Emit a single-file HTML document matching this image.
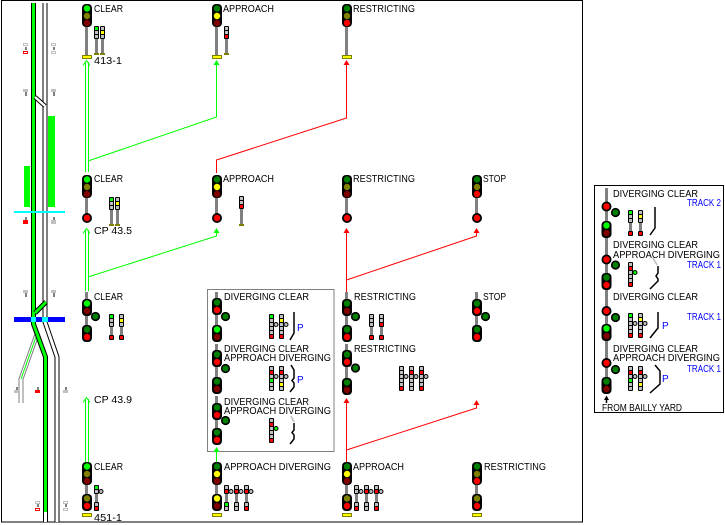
<!DOCTYPE html>
<html><head><meta charset="utf-8"><title>Signal aspects</title>
<style>
html,body{margin:0;padding:0;background:#fff;width:725px;height:525px;overflow:hidden}
svg{display:block}
text{font-family:"Liberation Sans",sans-serif;font-size:10px;fill:#000}
text.b{fill:#0000ff}
.G{fill:#00ff00}.DG{fill:#008000}.O{fill:#808000}.R{fill:#ff0000}.DR{fill:#800000}.Y{fill:#ffff00}.L{fill:#c0c0c0}.P{fill:#808080}.C{fill:#00ffff}
.s{stroke:#000;stroke-width:1}
</style></head><body>
<svg width="725" height="525" viewBox="0 0 725 525" xmlns="http://www.w3.org/2000/svg">
<rect x="0" y="0" width="725" height="525" fill="#fff"/>
<!-- frames -->
<rect x="1.5" y="0.5" width="581" height="521.5" fill="none" stroke="#000"/>
<rect x="594.5" y="185.5" width="129" height="227" fill="none" stroke="#000"/>
<rect x="207.5" y="289.5" width="126.5" height="162" fill="none" stroke="#808080"/>

<!-- ===== TRACKS ===== -->
<path d="M37,334 L21,379 V403" stroke="#808080" stroke-width="5" fill="none"/>
<path d="M37,334 L21,379 V403" stroke="#fff" stroke-width="3" fill="none"/>
<path d="M37,334 L21,379" stroke="#00ff00" stroke-width="1" fill="none"/>
<path d="M45,3 V322 L57,357 V522" stroke="#000" stroke-width="5" fill="none"/>
<path d="M45,3 V322 L57,357 V522" stroke="#fff" stroke-width="3" fill="none"/>
<path d="M33.5,3 V324 L45.5,357 V522" stroke="#000" stroke-width="5" fill="none"/>
<path d="M45.5,512 V522" stroke="#fff" stroke-width="3" fill="none"/>
<path d="M33.5,3 V324 L45.5,357 V512" stroke="#00ff00" stroke-width="3" fill="none"/>
<rect x="42" y="112" width="2" height="100" class="P"/>
<rect x="48" y="116" width="7" height="91" class="G"/>
<rect x="24" y="166" width="6" height="41" class="G"/>
<path d="M35,97 L45,106" stroke="#000" stroke-width="4.5" fill="none"/>
<path d="M35,97 L45,106" stroke="#fff" stroke-width="2.5" fill="none"/>
<path d="M46,302 L35,313" stroke="#000" stroke-width="5" fill="none"/>
<path d="M46,302 L35,313" stroke="#00ff00" stroke-width="3" fill="none"/>
<rect x="14" y="211" width="51" height="2" class="C"/>
<rect x="14" y="317" width="51" height="5" fill="#0000ff"/>
<rect x="31" y="317" width="5" height="5" class="C"/>
<rect x="42" y="317" width="6" height="5" class="C"/>

<!-- markers -->
<g>
<rect x="23.5" y="43.5" width="4" height="2" fill="none" stroke="#c0c0c0"/><rect x="25" y="47" width="2" height="3" class="P"/><rect x="23.5" y="51.5" width="4" height="2" fill="none" stroke="#f00"/>
<rect x="51.5" y="43.5" width="4" height="2" fill="none" stroke="#c0c0c0"/><rect x="53" y="47" width="2" height="3" class="P"/><rect x="51.5" y="51.5" width="4" height="2" fill="none" stroke="#c0c0c0"/>
<rect x="23" y="89" width="5" height="3" class="L"/><rect x="25" y="92" width="2" height="4" class="P"/>
<rect x="51" y="89" width="5" height="3" class="L"/><rect x="53" y="92" width="2" height="4" class="P"/>
<rect x="25" y="217" width="2" height="3" class="P"/><rect x="23" y="220" width="5" height="4" class="R"/>
<rect x="53" y="217" width="2" height="3" class="P"/><rect x="51" y="220" width="5" height="4" class="L"/>
<rect x="23" y="290" width="5" height="3" class="L"/><rect x="25" y="293" width="2" height="4" class="P"/>
<rect x="51" y="290" width="5" height="3" class="L"/><rect x="53" y="293" width="2" height="4" class="P"/>
<rect x="16" y="387" width="2" height="3" class="P"/><rect x="14" y="390" width="5" height="3" class="L"/>
<rect x="37" y="387" width="2" height="3" class="P"/><rect x="35" y="390" width="5" height="3" class="R"/>
<rect x="65" y="387" width="2" height="3" class="P"/><rect x="63" y="390" width="5" height="3" class="L"/>
<rect x="35.5" y="501.5" width="4" height="2" fill="none" stroke="#c0c0c0"/><rect x="37" y="504" width="2" height="3" class="P"/><rect x="35.5" y="508.5" width="4" height="2" fill="none" stroke="#f00"/>
<rect x="63.5" y="501.5" width="4" height="2" fill="none" stroke="#c0c0c0"/><rect x="65" y="504" width="2" height="3" class="P"/><rect x="63.5" y="508.5" width="4" height="2" fill="none" stroke="#c0c0c0"/>
</g>

<!-- ===== CONNECTORS ===== -->
<g fill="none" stroke="#00ff00" stroke-width="1">
<path d="M85.5,62 V172 M88.5,62 V172"/><path d="M83,65.5 L86.5,60.5 L90,65.5"/>
<path d="M85.5,230 V291 M88.5,230 V291"/><path d="M83,233.5 L86.5,228.5 L90,233.5"/>
<path d="M85.5,399 V462 M88.5,399 V462"/><path d="M83,402.5 L86.5,397.5 L90,402.5"/>
<path d="M88,161 L216.5,117 V63"/>
<path d="M88,277 L216.5,236 V231"/>
<path d="M216.5,450 V462"/>
</g>
<g fill="#00ff00">
<path d="M216.5,60 L213.5,65 L219.5,65 Z"/>
<path d="M216.5,228 L213.5,233 L219.5,233 Z"/>
<path d="M216.5,447 L213.5,452 L219.5,452 Z"/>
</g>
<g fill="none" stroke="#ff0000" stroke-width="1">
<path d="M216.5,173 V160 L346.5,118 V63"/>
<path d="M346.5,231 V292"/>
<path d="M346.5,280 L476.5,236 V231"/>
<path d="M346.5,401 V462"/>
<path d="M346.5,450 L476.5,408 V403"/>
</g>
<g fill="#ff0000">
<path d="M346.5,60 L343.5,65 L349.5,65 Z"/>
<path d="M346.5,228 L343.5,233 L349.5,233 Z"/>
<path d="M476.5,228 L473.5,233 L479.5,233 Z"/>
<path d="M346.5,398 L343.5,403 L349.5,403 Z"/>
<path d="M476.5,400 L473.5,405 L479.5,405 Z"/>
</g>

<!-- ===== POSTS ===== -->
<g class="P">
<rect x="85" y="27" width="3" height="28"/><rect x="215" y="27" width="3" height="28"/><rect x="345" y="27" width="3" height="28"/>
<rect x="85" y="197" width="3" height="17"/><rect x="215" y="197" width="3" height="17"/><rect x="345" y="197" width="3" height="17"/><rect x="475" y="197" width="3" height="17"/>
<rect x="85" y="292" width="3" height="49"/><rect x="215" y="292" width="3" height="49"/><rect x="345" y="292" width="3" height="49"/><rect x="475" y="292" width="3" height="49"/>
<rect x="215" y="344" width="3" height="49"/><rect x="345" y="344" width="3" height="51"/>
<rect x="215" y="396" width="3" height="48"/>
<rect x="85" y="485" width="3" height="10"/><rect x="215" y="485" width="3" height="10"/><rect x="345" y="485" width="3" height="10"/><rect x="475" y="485" width="3" height="10"/>
<rect x="605" y="188" width="3" height="205"/>
</g>

<!-- base plates -->
<g class="Y" stroke="#808000">
<rect x="82.5" y="55.5" width="9" height="3"/><rect x="212.5" y="55.5" width="9" height="3"/><rect x="342.5" y="55.5" width="9" height="3"/>
<rect x="82.5" y="513.5" width="9" height="3"/><rect x="212.5" y="513.5" width="9" height="3"/><rect x="342.5" y="513.5" width="9" height="3"/><rect x="472.5" y="513.5" width="9" height="3"/>
</g>

<!-- ===== SIGNAL HEADS ===== -->
<g fill="#000">
<rect x="82" y="4" width="10" height="23" rx="4"/>
<rect x="212" y="4" width="10" height="23" rx="4"/>
<rect x="342" y="4" width="10" height="23" rx="4"/>
<rect x="82" y="175" width="10" height="23" rx="4"/>
<rect x="212" y="175" width="10" height="23" rx="4"/>
<rect x="342" y="175" width="10" height="23" rx="4"/>
<rect x="472" y="175" width="10" height="23" rx="4"/>
<circle cx="87" cy="218" r="5"/><circle cx="217" cy="218" r="5"/><circle cx="347" cy="218" r="5"/><circle cx="477" cy="218" r="5"/>
<rect x="82" y="299" width="10" height="17" rx="4"/><rect x="82" y="325" width="10" height="17" rx="4"/>
<rect x="212" y="298" width="10" height="17" rx="4"/><rect x="212" y="325" width="10" height="17" rx="4"/>
<rect x="342" y="299" width="10" height="17" rx="4"/><rect x="342" y="325" width="10" height="17" rx="4"/>
<rect x="472" y="299" width="10" height="17" rx="4"/><rect x="472" y="325" width="10" height="17" rx="4"/>
<rect x="212" y="350" width="10" height="17" rx="4"/><rect x="212" y="377" width="10" height="17" rx="4"/>
<rect x="342" y="350" width="10" height="17" rx="4"/><rect x="342" y="378" width="10" height="17" rx="4"/>
<rect x="212" y="403" width="10" height="17" rx="4"/><rect x="212" y="428" width="10" height="17" rx="4"/>
<circle cx="95.5" cy="316.5" r="4.6"/><circle cx="225.5" cy="316.5" r="4.6"/><circle cx="355.5" cy="316.5" r="4.6"/><circle cx="485.5" cy="316.5" r="4.6"/>
<circle cx="225.5" cy="368.5" r="4.6"/><circle cx="355.5" cy="368" r="4.6"/><circle cx="225.5" cy="420.5" r="4.6"/>
<rect x="82" y="462" width="10" height="23" rx="4"/><rect x="82" y="494" width="10" height="17" rx="4"/>
<rect x="212" y="462" width="10" height="23" rx="4"/><rect x="212" y="494" width="10" height="17" rx="4"/>
<rect x="342" y="462" width="10" height="23" rx="4"/><rect x="342" y="494" width="10" height="17" rx="4"/>
<rect x="472" y="462" width="10" height="23" rx="4"/><rect x="472" y="494" width="10" height="17" rx="4"/>
<circle cx="606.5" cy="206.5" r="5"/><circle cx="615.5" cy="212.5" r="4.6"/><rect x="601.5" y="221" width="10" height="17" rx="4"/>
<circle cx="606.5" cy="259.5" r="5"/><circle cx="615.5" cy="265" r="4.6"/><rect x="601.5" y="273" width="10" height="17" rx="4"/>
<circle cx="606.5" cy="311" r="5"/><circle cx="615.5" cy="317.5" r="4.6"/><rect x="601.5" y="324" width="10" height="17" rx="4"/>
<circle cx="606.5" cy="363" r="5"/><circle cx="615.5" cy="369.5" r="4.6"/><rect x="601.5" y="377" width="10" height="17" rx="4"/>
</g>
<!-- lamps -->
<g>
<circle cx="87" cy="8.5" r="3.2" class="G"/><circle cx="87" cy="16" r="3.2" class="O"/><circle cx="87" cy="23" r="3.2" class="DR"/>
<circle cx="217" cy="8.5" r="3.2" class="DG"/><circle cx="217" cy="16" r="3.2" class="Y"/><circle cx="217" cy="23" r="3.2" class="DR"/>
<circle cx="347" cy="8.5" r="3.2" class="DG"/><circle cx="347" cy="16" r="3.2" class="O"/><circle cx="347" cy="23" r="3.2" class="R"/>

<circle cx="87" cy="179.5" r="3.2" class="G"/><circle cx="87" cy="187" r="3.2" class="O"/><circle cx="87" cy="194" r="3.2" class="DR"/>
<circle cx="217" cy="179.5" r="3.2" class="DG"/><circle cx="217" cy="187" r="3.2" class="Y"/><circle cx="217" cy="194" r="3.2" class="DR"/>
<circle cx="347" cy="179.5" r="3.2" class="DG"/><circle cx="347" cy="187" r="3.2" class="O"/><circle cx="347" cy="194" r="3.2" class="DR"/>
<circle cx="477" cy="179.5" r="3.2" class="DG"/><circle cx="477" cy="187" r="3.2" class="O"/><circle cx="477" cy="194" r="3.2" class="R"/>
<circle cx="87" cy="218" r="3.2" class="R"/><circle cx="217" cy="218" r="3.2" class="R"/><circle cx="347" cy="218" r="3.2" class="R"/><circle cx="477" cy="218" r="3.2" class="R"/>

<circle cx="87" cy="303.5" r="3.2" class="G"/><circle cx="87" cy="311" r="3.2" class="DR"/>
<circle cx="87" cy="329.5" r="3.2" class="DG"/><circle cx="87" cy="337" r="3.2" class="R"/>
<circle cx="217" cy="302.5" r="3.2" class="DG"/><circle cx="217" cy="310" r="3.2" class="R"/>
<circle cx="217" cy="329.5" r="3.2" class="G"/><circle cx="217" cy="337" r="3.2" class="DR"/>
<circle cx="347" cy="303.5" r="3.2" class="DG"/><circle cx="347" cy="311" r="3.2" class="DR"/>
<circle cx="347" cy="329.5" r="3.2" class="DG"/><circle cx="347" cy="337" r="3.2" class="R"/>
<circle cx="477" cy="303.5" r="3.2" class="DG"/><circle cx="477" cy="311" r="3.2" class="R"/>
<circle cx="477" cy="329.5" r="3.2" class="DG"/><circle cx="477" cy="337" r="3.2" class="R"/>
<circle cx="217" cy="354.5" r="3.2" class="DG"/><circle cx="217" cy="362" r="3.2" class="R"/>
<circle cx="217" cy="381.5" r="3.2" class="DG"/><circle cx="217" cy="389" r="3.2" class="DR"/>
<circle cx="347" cy="354.5" r="3.2" class="DG"/><circle cx="347" cy="362" r="3.2" class="R"/>
<circle cx="347" cy="382.5" r="3.2" class="DG"/><circle cx="347" cy="390" r="3.2" class="DR"/>
<circle cx="217" cy="407.5" r="3.2" class="DG"/><circle cx="217" cy="415" r="3.2" class="R"/>
<circle cx="217" cy="432.5" r="3.2" class="DG"/><circle cx="217" cy="440" r="3.2" class="R"/>
<circle cx="95.5" cy="316.5" r="3" class="DG"/><circle cx="225.5" cy="316.5" r="3" class="DG"/><circle cx="355.5" cy="316.5" r="3" class="DG"/><circle cx="485.5" cy="316.5" r="3" class="DG"/>
<circle cx="225.5" cy="368.5" r="3" class="DG"/><circle cx="355.5" cy="368" r="3" class="DG"/><circle cx="225.5" cy="420.5" r="3" class="DG"/>

<circle cx="87" cy="466.5" r="3.2" class="G"/><circle cx="87" cy="474" r="3.2" class="O"/><circle cx="87" cy="481" r="3.2" class="DR"/>
<circle cx="87" cy="498.5" r="3.2" class="O"/><circle cx="87" cy="506" r="3.2" class="R"/>
<circle cx="217" cy="466.5" r="3.2" class="DG"/><circle cx="217" cy="474" r="3.2" class="Y"/><circle cx="217" cy="481" r="3.2" class="DR"/>
<circle cx="217" cy="498.5" r="3.2" class="Y"/><circle cx="217" cy="506" r="3.2" class="DR"/>
<circle cx="347" cy="466.5" r="3.2" class="DG"/><circle cx="347" cy="474" r="3.2" class="Y"/><circle cx="347" cy="481" r="3.2" class="DR"/>
<circle cx="347" cy="498.5" r="3.2" class="O"/><circle cx="347" cy="506" r="3.2" class="R"/>
<circle cx="477" cy="466.5" r="3.2" class="DG"/><circle cx="477" cy="474" r="3.2" class="O"/><circle cx="477" cy="481" r="3.2" class="R"/>
<circle cx="477" cy="498.5" r="3.2" class="O"/><circle cx="477" cy="506" r="3.2" class="R"/>

<circle cx="606.5" cy="206.5" r="3.2" class="R"/><circle cx="615.5" cy="212.5" r="3" class="DG"/>
<circle cx="606.5" cy="225.5" r="3.2" class="G"/><circle cx="606.5" cy="233" r="3.2" class="DR"/>
<circle cx="606.5" cy="259.5" r="3.2" class="R"/><circle cx="615.5" cy="265" r="3" class="DG"/>
<circle cx="606.5" cy="277.5" r="3.2" class="DG"/><circle cx="606.5" cy="285" r="3.2" class="R"/>
<circle cx="606.5" cy="311" r="3.2" class="R"/><circle cx="615.5" cy="317.5" r="3" class="DG"/>
<circle cx="606.5" cy="328.5" r="3.2" class="G"/><circle cx="606.5" cy="336" r="3.2" class="DR"/>
<circle cx="606.5" cy="363" r="3.2" class="R"/><circle cx="615.5" cy="369.5" r="3" class="DG"/>
<circle cx="606.5" cy="381.5" r="3.2" class="DG"/><circle cx="606.5" cy="389" r="3.2" class="DR"/>
</g>

<!-- ===== DWARF SIGNALS ===== -->
<g class="P">
<rect x="95" y="39" width="3" height="14"/><rect x="101" y="39" width="3" height="14"/><rect x="225" y="39" width="3" height="14"/>
<rect x="110" y="210" width="3" height="14"/><rect x="116" y="210" width="3" height="14"/><rect x="240" y="209" width="3" height="15"/>
<rect x="110" y="327" width="3" height="9"/><rect x="120" y="327" width="3" height="9"/><rect x="370" y="327" width="3" height="9"/><rect x="380" y="327" width="3" height="9"/>
<rect x="95" y="494" width="3" height="8"/><rect x="225" y="494" width="3" height="8"/><rect x="235" y="494" width="3" height="8"/><rect x="245" y="494" width="3" height="8"/>
<rect x="355" y="494" width="3" height="8"/><rect x="365" y="494" width="3" height="8"/><rect x="375" y="494" width="3" height="8"/>
<rect x="629" y="223" width="3" height="8"/><rect x="639" y="223" width="3" height="8"/>
</g>
<g class="O">
<rect x="94" y="53" width="5" height="2"/><rect x="100" y="53" width="5" height="2"/><rect x="224" y="53" width="5" height="2"/>
<rect x="109" y="224" width="5" height="2"/><rect x="115" y="224" width="5" height="2"/><rect x="239" y="224" width="5" height="2"/>
</g>
<g fill="#000">
<rect x="94" y="26" width="5" height="13" rx="1"/><rect x="100" y="26" width="5" height="13" rx="1"/><rect x="224" y="26" width="5" height="13" rx="1"/>
<rect x="109" y="197" width="5" height="13" rx="1"/><rect x="115" y="197" width="5" height="13" rx="1"/><rect x="239" y="196" width="5" height="13" rx="1"/>
<rect x="109" y="314" width="5" height="13" rx="1"/><rect x="109" y="335" width="5" height="5" rx="1"/>
<rect x="119" y="314" width="5" height="13" rx="1"/><rect x="119" y="335" width="5" height="5" rx="1"/>
<rect x="369" y="314" width="5" height="13" rx="1"/><rect x="369" y="335" width="5" height="5" rx="1"/>
<rect x="379" y="314" width="5" height="13" rx="1"/><rect x="379" y="335" width="5" height="5" rx="1"/>
<rect x="269" y="314" width="5" height="25" rx="1"/><rect x="279" y="314" width="5" height="25" rx="1"/>
<rect x="269" y="366" width="5" height="25" rx="1"/><rect x="279" y="366" width="5" height="25" rx="1"/>
<rect x="269" y="418" width="5" height="25" rx="1"/>
<rect x="399" y="366" width="5" height="25" rx="1"/><rect x="409" y="366" width="5" height="25" rx="1"/><rect x="419" y="366" width="5" height="25" rx="1"/>
<rect x="94" y="485" width="5" height="9" rx="1"/><rect x="94" y="502" width="5" height="9" rx="1"/>
<rect x="224" y="485" width="5" height="9" rx="1"/><rect x="224" y="502" width="5" height="9" rx="1"/>
<rect x="234" y="485" width="5" height="9" rx="1"/><rect x="234" y="502" width="5" height="9" rx="1"/>
<rect x="244" y="485" width="5" height="9" rx="1"/><rect x="244" y="502" width="5" height="9" rx="1"/>
<rect x="354" y="485" width="5" height="9" rx="1"/><rect x="354" y="502" width="5" height="9" rx="1"/>
<rect x="364" y="485" width="5" height="9" rx="1"/><rect x="364" y="502" width="5" height="9" rx="1"/>
<rect x="374" y="485" width="5" height="9" rx="1"/><rect x="374" y="502" width="5" height="9" rx="1"/>
<rect x="628" y="210" width="5" height="13" rx="1"/><rect x="628" y="231" width="5" height="5" rx="1"/>
<rect x="638" y="210" width="5" height="13" rx="1"/><rect x="638" y="231" width="5" height="5" rx="1"/>
<rect x="628" y="262" width="5" height="25" rx="1"/>
<rect x="628" y="313" width="5" height="25" rx="1"/><rect x="638" y="313" width="5" height="25" rx="1"/>
<rect x="628" y="366" width="5" height="25" rx="1"/><rect x="638" y="366" width="5" height="25" rx="1"/>
</g>
<g>
<rect x="95" y="27" width="3" height="3" class="G"/><rect x="95" y="31" width="3" height="3" class="L"/><rect x="95" y="35" width="3" height="3" class="L"/>
<rect x="101" y="27" width="3" height="3" class="L"/><rect x="101" y="31" width="3" height="3" class="Y"/><rect x="101" y="35" width="3" height="3" class="L"/>
<rect x="225" y="27" width="3" height="3" class="L"/><rect x="225" y="31" width="3" height="3" class="L"/><rect x="225" y="35" width="3" height="3" class="R"/>

<rect x="110" y="198" width="3" height="3" class="G"/><rect x="110" y="202" width="3" height="3" class="L"/><rect x="110" y="206" width="3" height="3" class="L"/>
<rect x="116" y="198" width="3" height="3" class="L"/><rect x="116" y="202" width="3" height="3" class="Y"/><rect x="116" y="206" width="3" height="3" class="L"/>
<rect x="240" y="197" width="3" height="3" class="L"/><rect x="240" y="201" width="3" height="3" class="L"/><rect x="240" y="205" width="3" height="3" class="R"/>

<rect x="110" y="315" width="3" height="3" class="G"/><rect x="110" y="319" width="3" height="3" class="L"/><rect x="110" y="323" width="3" height="3" class="L"/><rect x="110" y="336" width="3" height="3" class="R"/>
<rect x="120" y="315" width="3" height="3" class="L"/><rect x="120" y="319" width="3" height="3" class="Y"/><rect x="120" y="323" width="3" height="3" class="L"/><rect x="120" y="336" width="3" height="3" class="R"/>
<rect x="370" y="315" width="3" height="3" class="L"/><rect x="370" y="319" width="3" height="3" class="L"/><rect x="370" y="323" width="3" height="3" class="L"/><rect x="370" y="336" width="3" height="3" class="R"/>
<rect x="380" y="315" width="3" height="3" class="L"/><rect x="380" y="319" width="3" height="3" class="L"/><rect x="380" y="323" width="3" height="3" class="R"/><rect x="380" y="336" width="3" height="3" class="R"/>

<rect x="270" y="315" width="3" height="3" class="G"/><rect x="270" y="319" width="3" height="3" class="L"/><rect x="270" y="323" width="3" height="3" class="L"/><rect x="270" y="327" width="3" height="3" class="L"/><rect x="270" y="331" width="3" height="3" class="L"/><rect x="270" y="335" width="3" height="3" class="R"/>
<rect x="280" y="315" width="3" height="3" class="L"/><rect x="280" y="319" width="3" height="3" class="Y"/><rect x="280" y="323" width="3" height="3" class="L"/><rect x="280" y="327" width="3" height="3" class="L"/><rect x="280" y="331" width="3" height="3" class="L"/><rect x="280" y="335" width="3" height="3" class="R"/>
<rect x="270" y="367" width="3" height="3" class="L"/><rect x="270" y="371" width="3" height="3" class="R"/><rect x="270" y="375" width="3" height="3" class="L"/><rect x="270" y="379" width="3" height="3" class="G"/><rect x="270" y="383" width="3" height="3" class="L"/><rect x="270" y="387" width="3" height="3" class="L"/>
<rect x="280" y="367" width="3" height="3" class="L"/><rect x="280" y="371" width="3" height="3" class="R"/><rect x="280" y="375" width="3" height="3" class="L"/><rect x="280" y="379" width="3" height="3" class="L"/><rect x="280" y="383" width="3" height="3" class="Y"/><rect x="280" y="387" width="3" height="3" class="L"/>
<rect x="270" y="419" width="3" height="3" class="L"/><rect x="270" y="423" width="3" height="3" class="R"/><rect x="270" y="427" width="3" height="3" class="L"/><rect x="270" y="431" width="3" height="3" class="L"/><rect x="270" y="435" width="3" height="3" class="L"/><rect x="270" y="439" width="3" height="3" class="R"/>
<rect x="400" y="367" width="3" height="3" class="L"/><rect x="400" y="371" width="3" height="3" class="L"/><rect x="400" y="375" width="3" height="3" class="L"/><rect x="400" y="379" width="3" height="3" class="L"/><rect x="400" y="383" width="3" height="3" class="L"/><rect x="400" y="387" width="3" height="3" class="R"/>
<rect x="410" y="367" width="3" height="3" class="L"/><rect x="410" y="371" width="3" height="3" class="R"/><rect x="410" y="375" width="3" height="3" class="L"/><rect x="410" y="379" width="3" height="3" class="L"/><rect x="410" y="383" width="3" height="3" class="L"/><rect x="410" y="387" width="3" height="3" class="L"/>
<rect x="420" y="367" width="3" height="3" class="L"/><rect x="420" y="371" width="3" height="3" class="R"/><rect x="420" y="375" width="3" height="3" class="L"/><rect x="420" y="379" width="3" height="3" class="L"/><rect x="420" y="383" width="3" height="3" class="L"/><rect x="420" y="387" width="3" height="3" class="R"/>
<rect x="95" y="486" width="3" height="3" class="G"/><rect x="95" y="490" width="3" height="3" class="L"/><rect x="95" y="503" width="3" height="3" class="L"/><rect x="95" y="507" width="3" height="3" class="R"/>
<rect x="225" y="486" width="3" height="3" class="L"/><rect x="225" y="490" width="3" height="3" class="R"/><rect x="225" y="503" width="3" height="3" class="G"/><rect x="225" y="507" width="3" height="3" class="L"/>
<rect x="235" y="486" width="3" height="3" class="L"/><rect x="235" y="490" width="3" height="3" class="R"/><rect x="235" y="503" width="3" height="3" class="L"/><rect x="235" y="507" width="3" height="3" class="L"/>
<rect x="245" y="486" width="3" height="3" class="L"/><rect x="245" y="490" width="3" height="3" class="R"/><rect x="245" y="503" width="3" height="3" class="L"/><rect x="245" y="507" width="3" height="3" class="R"/>
<rect x="355" y="486" width="3" height="3" class="L"/><rect x="355" y="490" width="3" height="3" class="L"/><rect x="355" y="503" width="3" height="3" class="L"/><rect x="355" y="507" width="3" height="3" class="R"/>
<rect x="365" y="486" width="3" height="3" class="L"/><rect x="365" y="490" width="3" height="3" class="R"/><rect x="365" y="503" width="3" height="3" class="L"/><rect x="365" y="507" width="3" height="3" class="L"/>
<rect x="375" y="486" width="3" height="3" class="L"/><rect x="375" y="490" width="3" height="3" class="R"/><rect x="375" y="503" width="3" height="3" class="L"/><rect x="375" y="507" width="3" height="3" class="R"/>
<rect x="629" y="211" width="3" height="3" class="G"/><rect x="629" y="215" width="3" height="3" class="L"/><rect x="629" y="219" width="3" height="3" class="L"/><rect x="629" y="232" width="3" height="3" class="R"/>
<rect x="639" y="211" width="3" height="3" class="L"/><rect x="639" y="215" width="3" height="3" class="Y"/><rect x="639" y="219" width="3" height="3" class="L"/><rect x="639" y="232" width="3" height="3" class="R"/>
<rect x="629" y="263" width="3" height="3" class="L"/><rect x="629" y="267" width="3" height="3" class="R"/><rect x="629" y="271" width="3" height="3" class="L"/><rect x="629" y="275" width="3" height="3" class="L"/><rect x="629" y="279" width="3" height="3" class="L"/><rect x="629" y="283" width="3" height="3" class="R"/>
<rect x="629" y="314" width="3" height="3" class="G"/><rect x="629" y="318" width="3" height="3" class="L"/><rect x="629" y="322" width="3" height="3" class="L"/><rect x="629" y="326" width="3" height="3" class="L"/><rect x="629" y="330" width="3" height="3" class="L"/><rect x="629" y="334" width="3" height="3" class="R"/>
<rect x="639" y="314" width="3" height="3" class="L"/><rect x="639" y="318" width="3" height="3" class="Y"/><rect x="639" y="322" width="3" height="3" class="L"/><rect x="639" y="326" width="3" height="3" class="L"/><rect x="639" y="330" width="3" height="3" class="L"/><rect x="639" y="334" width="3" height="3" class="R"/>
<rect x="629" y="367" width="3" height="3" class="L"/><rect x="629" y="371" width="3" height="3" class="R"/><rect x="629" y="375" width="3" height="3" class="L"/><rect x="629" y="379" width="3" height="3" class="G"/><rect x="629" y="383" width="3" height="3" class="L"/><rect x="629" y="387" width="3" height="3" class="L"/>
<rect x="639" y="367" width="3" height="3" class="L"/><rect x="639" y="371" width="3" height="3" class="R"/><rect x="639" y="375" width="3" height="3" class="L"/><rect x="639" y="379" width="3" height="3" class="L"/><rect x="639" y="383" width="3" height="3" class="Y"/><rect x="639" y="387" width="3" height="3" class="L"/>
</g>
<g stroke="#000" stroke-width="1">
<circle cx="276" cy="324.5" r="2" class="L"/><circle cx="286" cy="324.5" r="2" class="L"/>
<circle cx="276" cy="376.5" r="2" class="L"/><circle cx="286" cy="376.5" r="2" class="L"/>
<circle cx="276" cy="428.5" r="2" class="G"/>
<circle cx="406" cy="376.5" r="2" class="L"/><circle cx="416" cy="376.5" r="2" class="L"/><circle cx="426" cy="376.5" r="2" class="L"/>
<circle cx="101" cy="491.5" r="2" class="L"/>
<circle cx="231" cy="491.5" r="2" class="L"/><circle cx="241" cy="491.5" r="2" class="L"/><circle cx="251" cy="491.5" r="2" class="L"/>
<circle cx="361" cy="491.5" r="2" class="L"/><circle cx="371" cy="491.5" r="2" class="L"/><circle cx="381" cy="491.5" r="2" class="L"/>
<circle cx="635" cy="272.5" r="2" class="G"/>
<circle cx="635" cy="323.5" r="2" class="L"/><circle cx="645" cy="323.5" r="2" class="L"/>
<circle cx="635" cy="376.5" r="2" class="L"/><circle cx="645" cy="376.5" r="2" class="L"/>
</g>

<!-- route symbols -->
<g fill="none" stroke="#c0c0c0" stroke-width="1.6">
<path d="M291,416 L294,422"/>
<path d="M653,258 L657,265"/>
</g>
<g fill="none" stroke="#000" stroke-width="1.5">
<path d="M294,312 V333 L290,340"/>
<path d="M291,365 L294,370 V378 L292,380.5 L294,383 V387 L290,392"/>
<path d="M294,423 V430 L292,432.5 L294,435 V439 L290,444"/>
<path d="M655,207 V228 L650,235"/>
<path d="M658,266 V273 L656,276 L658,279 V281 L650,289"/>
<path d="M658,312 V328 L650,338"/>
<path d="M655,365 L660,371 V384 L650,393"/>
<path d="M606.5,399 V403"/>
</g>
<path d="M606.5,395.5 L604,400 L609,400 Z" fill="#000"/>

<!-- ===== TEXT ===== -->
<g>
<text x="94" y="12" textLength="29" lengthAdjust="spacingAndGlyphs">CLEAR</text>
<text x="94" y="64" textLength="28" lengthAdjust="spacingAndGlyphs">413-1</text>
<text x="223" y="12" textLength="51" lengthAdjust="spacingAndGlyphs">APPROACH</text>
<text x="353" y="12" textLength="62" lengthAdjust="spacingAndGlyphs">RESTRICTING</text>

<text x="94" y="182" textLength="29" lengthAdjust="spacingAndGlyphs">CLEAR</text>
<text x="94" y="234" textLength="38" lengthAdjust="spacingAndGlyphs">CP 43.5</text>
<text x="223" y="182" textLength="51" lengthAdjust="spacingAndGlyphs">APPROACH</text>
<text x="353" y="182" textLength="62" lengthAdjust="spacingAndGlyphs">RESTRICTING</text>
<text x="483" y="182" textLength="23" lengthAdjust="spacingAndGlyphs">STOP</text>

<text x="94" y="300" textLength="29" lengthAdjust="spacingAndGlyphs">CLEAR</text>
<text x="224" y="300" textLength="85" lengthAdjust="spacingAndGlyphs">DIVERGING CLEAR</text>
<text x="224" y="352" textLength="85" lengthAdjust="spacingAndGlyphs">DIVERGING CLEAR</text>
<text x="224" y="361" textLength="107" lengthAdjust="spacingAndGlyphs">APPROACH DIVERGING</text>
<text x="224" y="405" textLength="85" lengthAdjust="spacingAndGlyphs">DIVERGING CLEAR</text>
<text x="224" y="414" textLength="107" lengthAdjust="spacingAndGlyphs">APPROACH DIVERGING</text>
<text x="354" y="300" textLength="62" lengthAdjust="spacingAndGlyphs">RESTRICTING</text>
<text x="354" y="352" textLength="62" lengthAdjust="spacingAndGlyphs">RESTRICTING</text>
<text x="483" y="300" textLength="23" lengthAdjust="spacingAndGlyphs">STOP</text>
<text x="94" y="403" textLength="38" lengthAdjust="spacingAndGlyphs">CP 43.9</text>

<text x="94" y="470" textLength="29" lengthAdjust="spacingAndGlyphs">CLEAR</text>
<text x="94" y="521" textLength="28" lengthAdjust="spacingAndGlyphs">451-1</text>
<text x="224" y="470" textLength="107" lengthAdjust="spacingAndGlyphs">APPROACH DIVERGING</text>
<text x="353" y="470" textLength="51" lengthAdjust="spacingAndGlyphs">APPROACH</text>
<text x="484" y="470" textLength="62" lengthAdjust="spacingAndGlyphs">RESTRICTING</text>

<text x="297" y="331" class="b">P</text>
<text x="297" y="383" class="b">P</text>

<text x="613" y="197" textLength="85" lengthAdjust="spacingAndGlyphs">DIVERGING CLEAR</text>
<text x="687" y="206" class="b" textLength="34" lengthAdjust="spacingAndGlyphs">TRACK 2</text>
<text x="613" y="248" textLength="85" lengthAdjust="spacingAndGlyphs">DIVERGING CLEAR</text>
<text x="613" y="258" textLength="107" lengthAdjust="spacingAndGlyphs">APPROACH DIVERGING</text>
<text x="687" y="268" class="b" textLength="34" lengthAdjust="spacingAndGlyphs">TRACK 1</text>
<text x="613" y="300" textLength="85" lengthAdjust="spacingAndGlyphs">DIVERGING CLEAR</text>
<text x="687" y="320" class="b" textLength="34" lengthAdjust="spacingAndGlyphs">TRACK 1</text>
<text x="662" y="329" class="b">P</text>
<text x="613" y="352" textLength="85" lengthAdjust="spacingAndGlyphs">DIVERGING CLEAR</text>
<text x="613" y="361" textLength="107" lengthAdjust="spacingAndGlyphs">APPROACH DIVERGING</text>
<text x="687" y="372" class="b" textLength="34" lengthAdjust="spacingAndGlyphs">TRACK 1</text>
<text x="662" y="382" class="b">P</text>
<text x="602" y="411" textLength="80" lengthAdjust="spacingAndGlyphs">FROM BAILLY YARD</text>
</g>
</svg>
</body></html>
